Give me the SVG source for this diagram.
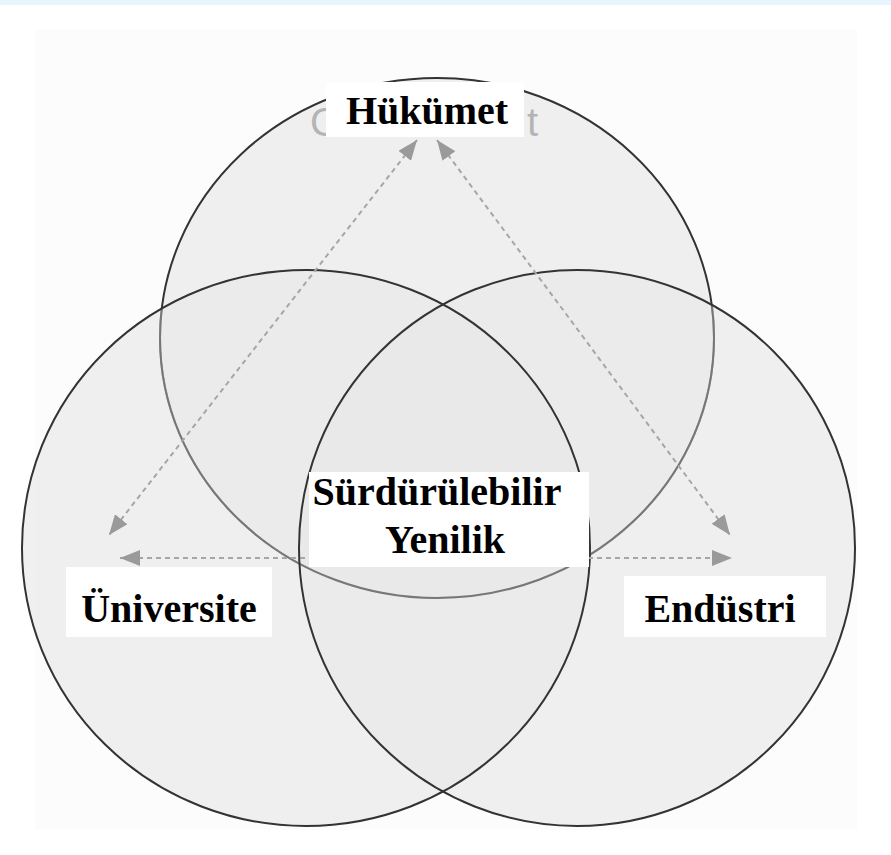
<svg xmlns="http://www.w3.org/2000/svg" width="891" height="855" viewBox="0 0 891 855">
  <style>
    .fill { fill: #e8e8e8; fill-opacity: 0.65; stroke: none; }
    .ring { fill: none; stroke: #333333; stroke-width: 2; }
    .ring-soft { fill: none; stroke: #777777; stroke-width: 2; }
    .box { fill: #ffffff; }
    .lbl { font-family: "Liberation Serif", "Times New Roman", serif; font-weight: bold; font-size: 40px; fill: #000000; }
    .ghost { font-family: "Liberation Sans", Arial, sans-serif; font-size: 40px; fill: #b4b4b4; }
    .link { fill: none; stroke: #a6a6a6; stroke-width: 2; stroke-dasharray: 5 4; }
  </style>
  <defs>
    <marker id="arrow" viewBox="0 0 10 8" markerWidth="10" markerHeight="8" refX="10" refY="4" orient="auto-start-reverse" markerUnits="strokeWidth">
      <path d="M0,0 L10,4 L0,8 z" fill="#9a9a9a"/>
    </marker>
    <clipPath id="lowerSets">
      <ellipse cx="577" cy="548" rx="278" ry="278"/>
      <ellipse cx="306" cy="548" rx="284" ry="278"/>
    </clipPath>
  </defs>
  <rect x="0" y="0" width="891" height="855" fill="#ffffff"/>
  <rect x="0" y="0" width="891" height="5" fill="#e8f5fd"/>
  <rect x="35" y="30" width="822" height="800" fill="#fcfcfc"/>

  <g id="set-government">
    <ellipse class="fill" cx="437" cy="338" rx="277" ry="260"/>
    <ellipse class="ring" cx="437" cy="338" rx="277" ry="260"/>
  </g>
  <g id="set-industry">
    <ellipse class="fill" cx="577" cy="548" rx="278" ry="278"/>
  </g>
  <g id="set-university">
    <ellipse class="fill" cx="306" cy="548" rx="284" ry="278"/>
  </g>
  <g id="set-outlines">
    <ellipse class="ring-soft" cx="437" cy="338" rx="277" ry="260" clip-path="url(#lowerSets)"/>
    <ellipse class="ring" cx="577" cy="548" rx="278" ry="278"/>
    <ellipse class="ring" cx="306" cy="548" rx="284" ry="278"/>
  </g>

  <g id="connectors">
    <line class="link" x1="417" y1="140" x2="109" y2="535" marker-start="url(#arrow)" marker-end="url(#arrow)"/>
    <line class="link" x1="437" y1="140" x2="730" y2="535" marker-start="url(#arrow)" marker-end="url(#arrow)"/>
    <line class="link" x1="120" y1="558" x2="732" y2="558" marker-start="url(#arrow)" marker-end="url(#arrow)"/>
  </g>

  <g id="node-hukumet">
    <text class="ghost" x="310" y="136">G</text>
    <text class="ghost" x="527" y="136">t</text>
    <rect class="box" x="326" y="82" width="198" height="55"/>
    <text class="lbl" x="427" y="124" text-anchor="middle">Hükümet</text>
  </g>
  <g id="node-center">
    <rect class="box" x="309" y="472" width="280" height="95"/>
    <text class="lbl" x="437" y="505" text-anchor="middle">Sürdürülebilir</text>
    <text class="lbl" x="445" y="553" text-anchor="middle">Yenilik</text>
  </g>
  <g id="node-universite">
    <rect class="box" x="66" y="567" width="206" height="70"/>
    <text class="lbl" x="169" y="622" text-anchor="middle">Üniversite</text>
  </g>
  <g id="node-endustri">
    <rect class="box" x="624" y="576" width="202" height="61"/>
    <text class="lbl" x="720" y="622" text-anchor="middle">Endüstri</text>
  </g>
</svg>
